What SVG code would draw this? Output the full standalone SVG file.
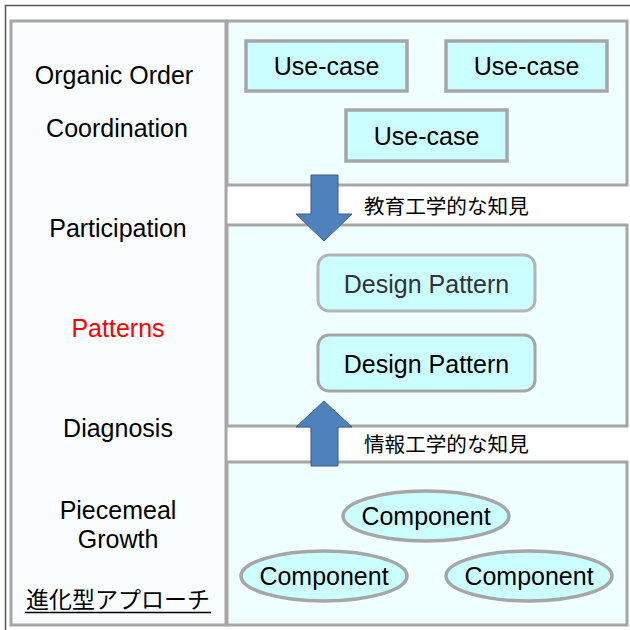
<svg xmlns="http://www.w3.org/2000/svg" width="630" height="630" viewBox="0 0 630 630">
<style>
.t{font-family:"Liberation Sans",Arial,"Noto Sans CJK JP",sans-serif;font-size:25px;fill:#000;text-anchor:middle}
.jp{font-family:"Liberation Sans","Noto Sans CJK JP",sans-serif;font-size:20.6px;fill:#000}
.panel{fill:#f0ffff;stroke:#a6a6a6;stroke-width:3}
.box{fill:#ccffff;stroke:#a6a6a6;stroke-width:3.5}
.arrow{fill:#4f81bd;stroke:#385d8a;stroke-width:1}
</style>
<rect x="0" y="0" width="630" height="630" fill="#fff"/>
<rect x="5.5" y="5.5" width="640" height="640" fill="#fff" stroke="#555" stroke-width="1.5"/>
<g id="left-panel">
<rect x="11" y="21" width="215" height="604" fill="#f9fdfe" stroke="#a6a6a6" stroke-width="3"/>
<text class="t" x="114" y="84">Organic Order</text>
<text class="t" x="117" y="137">Coordination</text>
<text class="t" x="118" y="237">Participation</text>
<text class="t" x="118" y="337" style="fill:#ff0000">Patterns</text>
<text class="t" x="118" y="437">Diagnosis</text>
<text class="t" x="118" y="519">Piecemeal</text>
<text class="t" x="118" y="548">Growth</text>
<text class="t" x="118" y="608" style="font-size:23px">進化型アプローチ</text>
<line x1="25" y1="612.5" x2="211" y2="612.5" stroke="#000" stroke-width="1.5"/>
</g>
<g id="usecase-panel">
<rect class="panel" x="227" y="21" width="400" height="164"/>
</g>
<g id="pattern-panel">
<rect class="panel" x="227" y="225" width="400" height="201"/>
</g>
<g id="component-panel">
<rect class="panel" x="227" y="462" width="400" height="163"/>
</g>
<g id="usecase-1">
<rect class="box" x="246" y="41" width="161" height="50"/>
<text class="t" x="326.5" y="75">Use-case</text>
</g>
<g id="usecase-2">
<rect class="box" x="446" y="41" width="161" height="50"/>
<text class="t" x="526.5" y="75">Use-case</text>
</g>
<g id="usecase-3">
<rect class="box" x="346" y="110" width="161" height="51"/>
<text class="t" x="426.5" y="145">Use-case</text>
</g>
<g id="pattern-1">
<rect x="318" y="255" width="217" height="56" rx="11" fill="#ccffff" stroke="#b4b4b4" stroke-width="3"/>
<text class="t" x="426.5" y="293" style="fill:#333">Design Pattern</text>
</g>
<g id="pattern-2">
<rect x="318" y="335" width="217" height="56" rx="11" fill="#ccffff" stroke="#a6a6a6" stroke-width="3"/>
<text class="t" x="426.5" y="373">Design Pattern</text>
</g>
<g id="component-1">
<ellipse class="box" cx="426" cy="516" rx="83" ry="25"/>
<text class="t" x="426" y="525">Component</text>
</g>
<g id="component-2">
<ellipse class="box" cx="324" cy="576" rx="83" ry="25"/>
<text class="t" x="324" y="585">Component</text>
</g>
<g id="component-3">
<ellipse class="box" cx="529" cy="576" rx="83" ry="25"/>
<text class="t" x="529" y="585">Component</text>
</g>
<g id="connectors">
<polygon class="arrow" points="311,175 338,175 338,214 352,214 324,241 296,214 311,214"/>
<polygon class="arrow" points="311,466 338,466 338,427 352,427 324,401 296,427 311,427"/>
<text class="jp" x="364" y="214">教育工学的な知見</text>
<text class="jp" x="364" y="452">情報工学的な知見</text>
</g>
</svg>
